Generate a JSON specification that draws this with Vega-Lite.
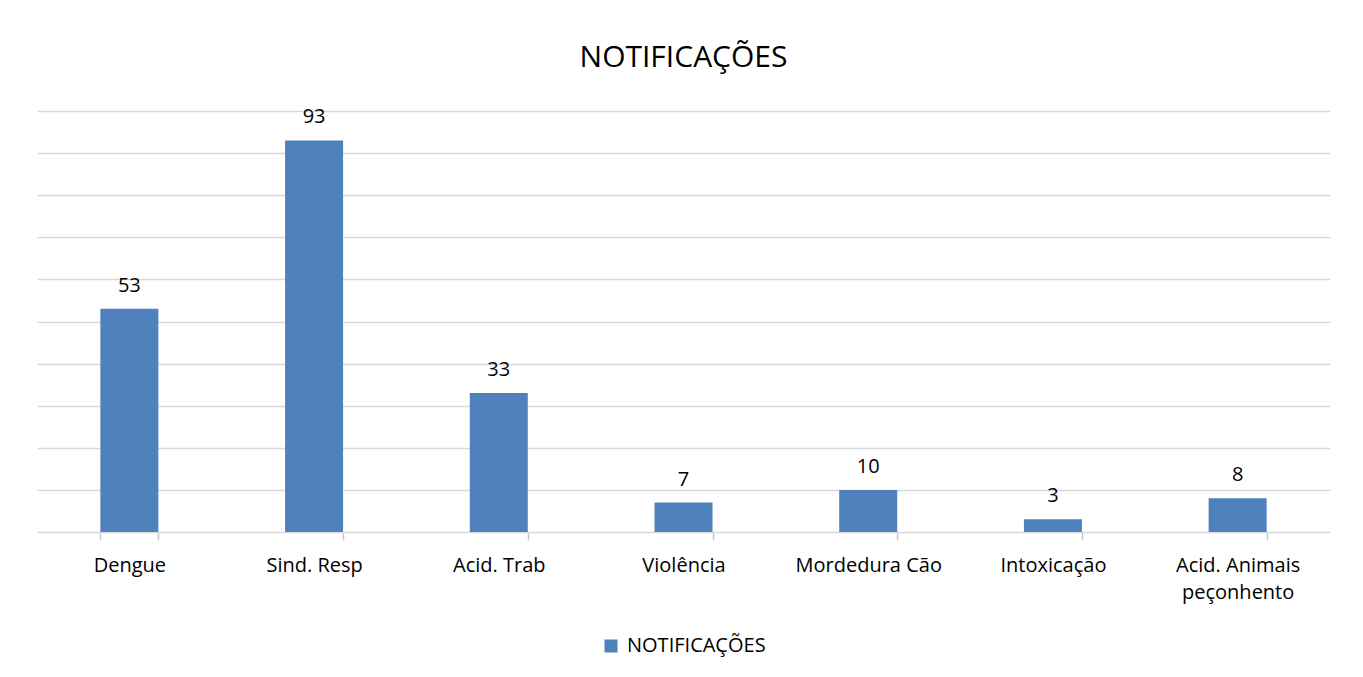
{
  "$schema": "https://vega.github.io/schema/vega-lite/v6.json",
  "width": 1293,
  "height": 421,
  "autosize": {"type": "none"},
  "padding": {"left": 37, "top": 111, "right": 33, "bottom": 145},
  "background": "white",
  "config": {
    "font": "Open Sans",
    "view": {"stroke": null},
    "legend": {"layout": {"bottom": {"anchor": "middle"}}}
  },
  "title": {
    "text": "NOTIFICAÇÕES",
    "fontSize": 30,
    "font": "Open Sans",
    "fontWeight": "normal",
    "color": "#000000",
    "anchor": "middle",
    "frame": "group",
    "baseline": "alphabetic",
    "offset": 10
  },
  "data": {
    "values": [
      {"categoria": "Dengue", "valor": 53, "serie": "NOTIFICAÇÕES"},
      {"categoria": "Sind. Resp", "valor": 93, "serie": "NOTIFICAÇÕES"},
      {"categoria": "Acid. Trab", "valor": 33, "serie": "NOTIFICAÇÕES"},
      {"categoria": "Violência", "valor": 7, "serie": "NOTIFICAÇÕES"},
      {"categoria": "Mordedura Cão", "valor": 10, "serie": "NOTIFICAÇÕES"},
      {"categoria": "Intoxicação", "valor": 3, "serie": "NOTIFICAÇÕES"},
      {"categoria": "Acid. Animais peçonhento", "valor": 8, "serie": "NOTIFICAÇÕES"}
    ]
  },
  "encoding": {
    "x": {
      "field": "categoria",
      "type": "nominal",
      "sort": null,
      "scale": {"paddingInner": 0.686, "paddingOuter": 0.343},
      "axis": {
        "title": null,
        "labelAngle": 0,
        "labelFontSize": 20,
        "labelColor": "#000000",
        "labelFont": "Open Sans",
        "labelPadding": 15,
        "labelLineHeight": 27,
        "labelExpr": "datum.label == 'Acid. Animais peçonhento' ? ['Acid. Animais', 'peçonhento'] : datum.label",
        "ticks": true,
        "tickBand": "extent",
        "tickSize": 8,
        "tickColor": "#c8c8c8",
        "tickWidth": 1.5,
        "domainColor": "#d9d9d9",
        "domainWidth": 1.5,
        "grid": false
      }
    },
    "y": {
      "field": "valor",
      "type": "quantitative",
      "scale": {"domain": [0, 100], "nice": false},
      "axis": {
        "title": null,
        "labels": false,
        "ticks": false,
        "domain": false,
        "values": [10, 20, 30, 40, 50, 60, 70, 80, 90, 100],
        "grid": true,
        "gridColor": "#d9d9d9",
        "gridWidth": 1.5
      }
    }
  },
  "layer": [
    {
      "mark": {"type": "bar"},
      "encoding": {
        "color": {
          "field": "serie",
          "type": "nominal",
          "scale": {"range": ["#4f81bd"]},
          "legend": {
            "title": null,
            "orient": "bottom",
            "direction": "horizontal",
            "symbolType": "square",
            "symbolSize": 169,
            "symbolStrokeWidth": 0,
            "labelFontSize": 20,
            "labelFont": "Open Sans",
            "labelColor": "#000000",
            "labelOffset": 6,
            "offset": 34
          }
        }
      }
    },
    {
      "mark": {"type": "text", "baseline": "alphabetic", "dy": -17, "fontSize": 20, "font": "Open Sans", "color": "#000000"},
      "encoding": {
        "text": {"field": "valor", "type": "quantitative"}
      }
    }
  ]
}
